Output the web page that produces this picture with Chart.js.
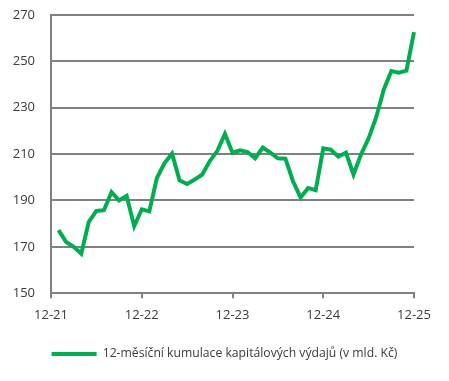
<!DOCTYPE html>
<html><head><meta charset="utf-8">
<script src="https://cdn.jsdelivr.net/npm/chart.js@4/dist/chart.umd.min.js"></script>
<style>html,body{margin:0;padding:0;background:#fff}#wrap{width:449px;height:381px}</style>
</head><body><div id="wrap"><canvas id="c" width="449" height="381"></canvas></div>
<script>
const months = ["12-21","01-22","02-22","03-22","04-22","05-22","06-22","07-22","08-22","09-22","10-22","11-22","12-22",
"01-23","02-23","03-23","04-23","05-23","06-23","07-23","08-23","09-23","10-23","11-23","12-23",
"01-24","02-24","03-24","04-24","05-24","06-24","07-24","08-24","09-24","10-24","11-24","12-24",
"01-25","02-25","03-25","04-25","05-25","06-25","07-25","08-25","09-25","10-25","11-25","12-25"];
const shownLabels = ["12-21","12-22","12-23","12-24","12-25"];
const capex = [null,
177.2,172.1,170.0,167.0,180.8,185.5,185.8,193.6,190.0,192.0,178.9,186.2,
185.3,199.7,206.0,210.2,198.7,197.1,199.0,201.2,207.0,211.4,218.7,210.6,
211.6,210.9,208.2,212.8,210.6,208.2,208.0,198.3,191.3,195.4,194.4,212.5,
211.9,208.9,210.6,201.2,209.9,216.8,225.9,237.8,245.8,245.1,246.0,262.6];
const seriesName = "12-měsíční kumulace kapitálových výdajů (v mld. Kč)";
const GREY = '#808080', GREEN = '#00ad4f', TXT = '#3a3a3a';
const FONT = "'Open Sans', sans-serif";
new Chart(document.getElementById('c'), {
  type: 'line',
  data: { labels: months, datasets: [{ label: seriesName, data: capex, borderColor: GREEN, backgroundColor: GREEN,
    borderWidth: 4, pointRadius: 0, tension: 0, spanGaps: false, yAxisID: 'y' }] },
  options: {
    responsive: false, animation: false,
    layout: { padding: { top: 15, right: 0, left: 0, bottom: 11 } },
    plugins: {
      legend: { position: 'bottom', labels: { boxWidth: 45, boxHeight: 4, padding: 16, color: TXT,
        font: { family: FONT, size: 12.2 },
        generateLabels: chart => chart.data.datasets.map((d, i) => ({ text: d.label, fillStyle: GREEN,
          strokeStyle: GREEN, lineWidth: 0, hidden: false, datasetIndex: i, fontColor: TXT })) } },
      tooltip: { enabled: false }
    },
    scales: {
      x: {
        ticks: { autoSkip: false, maxRotation: 0, color: TXT, font: { family: FONT, size: 13 }, padding: 9,
          callback: function(v, i) { const l = months[i]; return shownLabels.includes(l) ? l : null; } },
        grid: { drawOnChartArea: true, tickLength: 5, lineWidth: 2,
          color: ctx => (ctx.index === months.length - 1 ? GREY : 'rgba(0,0,0,0)'), tickColor: GREY },
        border: { display: true, color: GREY, width: 2 }
      },
      y: {
        min: 150, max: 270,
        afterFit: s => { s.width = 51; },
        ticks: { stepSize: 20, color: TXT, font: { family: FONT, size: 13 }, padding: 0 },
        grid: { color: GREY, lineWidth: 2, tickLength: 16, tickColor: 'rgba(0,0,0,0)' },
        border: { display: true, color: GREY, width: 2 }
      },
      yRight: {
        position: 'right', min: 150, max: 270,
        afterFit: s => { s.width = 35; },
        ticks: { display: false },
        grid: { display: false },
        border: { display: false }
      }
    }
  }
});
</script></body></html>
